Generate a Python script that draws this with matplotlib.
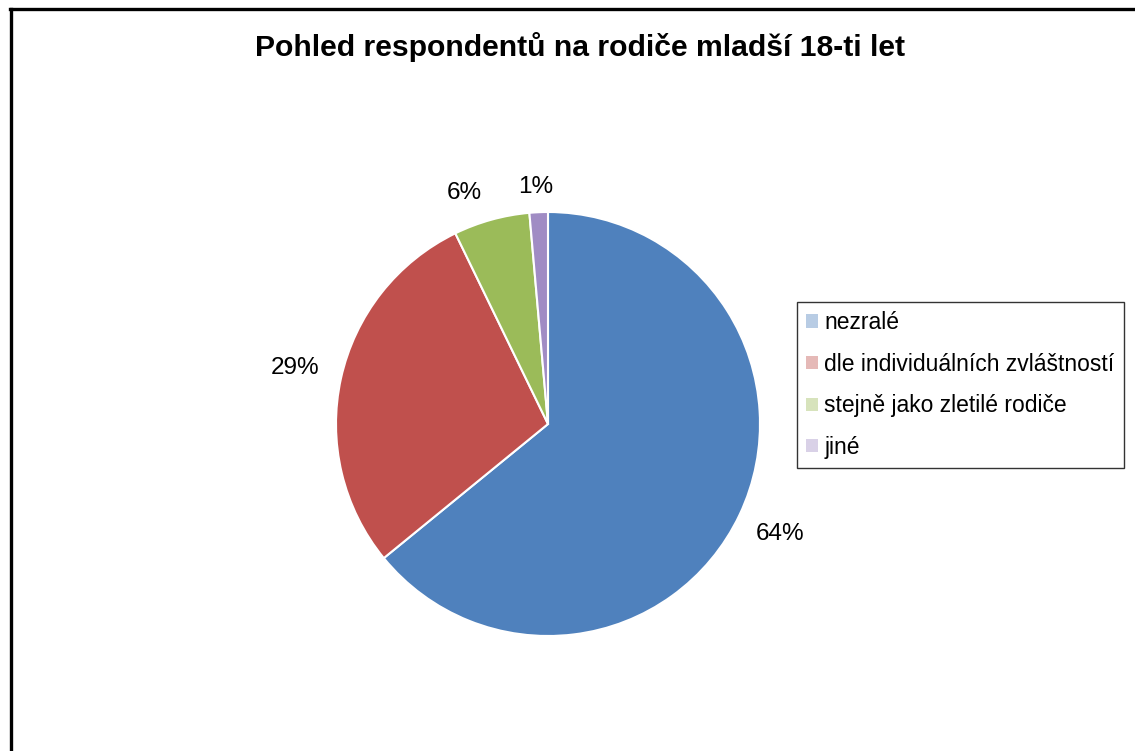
import numpy as np
import matplotlib
matplotlib.use("Agg")
import matplotlib.pyplot as plt
from matplotlib.patches import Patch
from matplotlib.lines import Line2D

categories = ["nezralé", "dle individuálních zvláštností", "stejně jako zletilé rodiče", "jiné"]
values = [64.1, 28.7, 5.8, 1.4]
colors = ["#4F81BD", "#C0504D", "#9BBB59", "#A08CC4"]
title = "Pohled respondentů na rodiče mladší 18-ti let"

plt.rcParams['font.family'] = ['Liberation Sans', 'DejaVu Sans']

fig = plt.figure(figsize=(11.35, 7.51), dpi=100)
W, H = 1135, 751
cx, cy, r = 548, 424, 212
ax = fig.add_axes([(cx - r) / W, (H - cy - r) / H, 2 * r / W, 2 * r / H])

wedges, texts, autotexts = ax.pie(
    values, colors=colors, startangle=90, counterclock=False,
    autopct=lambda p: f"{p:.0f}%", pctdistance=1.19,
    wedgeprops=dict(edgecolor="white", linewidth=1.5),
    textprops=dict(fontsize=17.5, color="#000000"))
# per-slice label placement (styling only): radial distance, angle shift in degrees
label_dist = [1.21, 1.22, 1.16, 1.12]
label_shift = [0.0, 0.0, 4.5, 0.5]
for w, t, d, s in zip(wedges, autotexts, label_dist, label_shift):
    ang = np.deg2rad((w.theta1 + w.theta2) / 2 + s)
    t.set_position((d * np.cos(ang), d * np.sin(ang)))
ax.set_xlim(-1, 1)
ax.set_ylim(-1, 1)
ax.set_aspect("equal")
ax.axis("off")

fig.text(580 / W, 1 - 47 / H, title, ha="center", va="center",
         fontsize=21.7, fontweight="bold")

handles = [Patch(facecolor=c, alpha=0.4, edgecolor="none") for c in colors]
leg = fig.legend(handles, categories, loc="upper left",
                 bbox_to_anchor=(797 / W, 1 - 302 / H),
                 fontsize=16.5, frameon=True, fancybox=False,
                 handlelength=0.5, handleheight=0.5, handletextpad=0.3,
                 labelspacing=0.81, borderpad=0.4, borderaxespad=0)
leg.get_frame().set_edgecolor("black")
leg.get_frame().set_linewidth(1.0)

fig.add_artist(Line2D([10 / W, 1], [1 - 8.5 / H, 1 - 8.5 / H],
                      transform=fig.transFigure, color="black", lw=2.4))
fig.add_artist(Line2D([11 / W, 11 / W], [0, 1 - 8.5 / H],
                      transform=fig.transFigure, color="black", lw=2.4))

fig.savefig("out.png", dpi=100, facecolor="white")
